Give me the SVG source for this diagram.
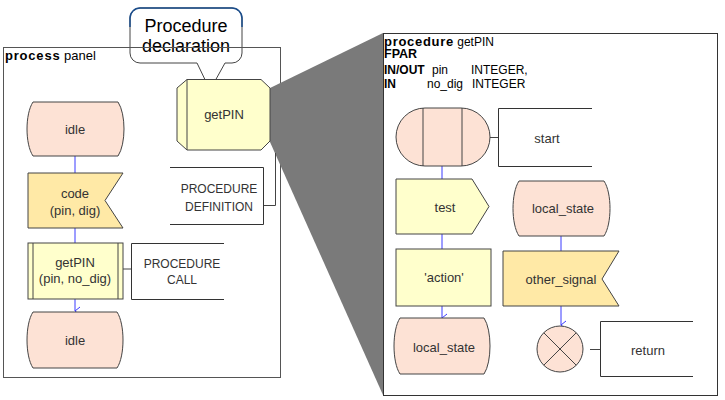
<svg xmlns="http://www.w3.org/2000/svg" width="725" height="400" viewBox="0 0 725 400">
<style>
text{font-family:"Liberation Sans",Arial,sans-serif;fill:#333;font-size:13px;text-anchor:middle}
.hd{fill:#000;text-anchor:start;font-size:12px}
.b{font-weight:bold}
.cm{font-size:12px}
.st{fill:#fde2d5;stroke:#444;stroke-width:1}
.yl{fill:#ffffcc;stroke:#444;stroke-width:1}
.in{fill:#ffe9a6;stroke:#444;stroke-width:1}
.br{fill:none;stroke:#333;stroke-width:1}
.cn{fill:none;stroke:#3a3aff;stroke-width:1}
.ln{fill:none;stroke:#444;stroke-width:1}
</style>
<defs>
<marker id="ar" viewBox="0 0 10 10" refX="5" refY="9" markerWidth="10" markerHeight="10" markerUnits="userSpaceOnUse" orient="auto-start-reverse">
<path d="M1,4 L5,9 L9,4" fill="none" stroke="#3a3aff" stroke-width="1"/>
</marker>
</defs>
<rect width="725" height="400" fill="#fff"/>

<!-- callout -->
<g id="callout">
<path d="M140,8 H232 A10,10 0 0 1 242,18 V53 A10,10 0 0 1 232,63 H225 L210,90 L197,63 H140 A10,10 0 0 1 130,53 V18 A10,10 0 0 1 140,8 Z" fill="#fff" stroke="#444" stroke-width="1"/>
<path d="M130,27 V18 A10,10 0 0 1 140,8 H232 A10,10 0 0 1 242,18 V27" fill="none" stroke="#1a4d8c" stroke-width="1.5"/>
<text x="186" y="32" style="font-size:18px;fill:#000">Procedure</text>
<text x="186" y="52" style="font-size:18px;fill:#000">declaration</text>
</g>

<!-- left panel -->
<g id="process-panel">
<rect x="3.5" y="47.5" width="277" height="330" fill="none" stroke="#555" stroke-width="1"/>
<text x="5" y="60" class="hd" style="font-size:13px"><tspan class="b" style="letter-spacing:0.8px">process</tspan> panel</text>
</g>

<!-- right panel -->
<g id="procedure-panel">
<rect x="383.5" y="33.5" width="334" height="362" fill="#fff" stroke="#333" stroke-width="1"/>
<text x="384" y="45.5" class="hd"><tspan class="b" style="font-size:13px;letter-spacing:0.7px">procedure</tspan> getPIN</text>
<text x="384" y="58" class="hd b" style="font-size:12.5px">FPAR</text>
<text x="384" y="74" class="hd b">IN/OUT</text>
<text x="432" y="74" class="hd">pin</text>
<text x="471" y="74" class="hd">INTEGER,</text>
<text x="384" y="88" class="hd b">IN</text>
<text x="427" y="88" class="hd">no_dig</text>
<text x="472" y="88" class="hd">INTEGER</text>
</g>

<!-- zoom hatch -->
<g id="zoom-hatch">
<polygon points="270,88 383,33 383,395 270,142" fill="#7a7a7a"/>
</g>

<g id="connectors">
<line class="cn" x1="75" y1="156" x2="75" y2="173"/>
<line class="cn" x1="75" y1="228" x2="75" y2="243"/>
<line class="cn" x1="75" y1="299" x2="75" y2="311" marker-end="url(#ar)"/>
<line class="ln" x1="123" y1="269" x2="131" y2="269"/>
<path class="ln" d="M275.5,153 V205.5 H263"/>
<line class="ln" x1="490" y1="137.5" x2="498" y2="137.5"/>
<line class="cn" x1="442" y1="166" x2="442" y2="179"/>
<line class="cn" x1="442" y1="234" x2="442" y2="249"/>
<line class="cn" x1="442" y1="306" x2="442" y2="318" marker-end="url(#ar)"/>
<line class="cn" x1="561" y1="236" x2="561" y2="251"/>
<line class="cn" x1="561" y1="306" x2="561" y2="325" marker-end="url(#ar)"/>
<line class="ln" x1="590" y1="349.5" x2="600" y2="349.5"/>
</g>

<g id="proc-decl">
<path class="yl" d="M187,79.5 H261 L270,88 V141 L261,150 H187 L177,141 V88 Z"/>
<line class="ln" x1="187" y1="79.5" x2="187" y2="150"/>
<text x="224" y="119">getPIN</text>
</g>

<g id="comment-definition">
<path class="br" d="M170,167.5 H263.5 V224.5 H170"/>
<text x="219" y="193" class="cm">PROCEDURE</text>
<text x="219" y="211" class="cm">DEFINITION</text>
</g>

<g id="idle-top">
<path class="st" d="M33,102 H118 C126,114 126,144 118,156 H33 C25,144 25,114 33,102 Z"/>
<text x="75" y="134">idle</text>
</g>

<g id="input-code">
<polygon class="in" points="28,173 123,173 105,200.5 123,228 28,228"/>
<text x="75" y="198">code</text>
<text x="75" y="215">(pin, dig)</text>
</g>

<g id="call-getpin">
<rect class="yl" x="28" y="243" width="95" height="56"/>
<line class="ln" x1="33" y1="243" x2="33" y2="299"/>
<line class="ln" x1="118" y1="243" x2="118" y2="299"/>
<text x="75" y="267">getPIN</text>
<text x="75" y="283">(pin, no_dig)</text>
</g>

<g id="comment-call">
<path class="br" d="M224,243.5 H131.5 V299.5 H224"/>
<text x="182" y="268" class="cm">PROCEDURE</text>
<text x="182" y="284" class="cm">CALL</text>
</g>

<g id="idle-bottom">
<path class="st" d="M33,312 H117 C125,324 125,356 117,368 H33 C25,356 25,324 33,312 Z"/>
<text x="75" y="345">idle</text>
</g>

<g id="start">
<rect class="st" x="396" y="108" width="94" height="58" rx="29" ry="29"/>
<line class="ln" x1="423" y1="108" x2="423" y2="166"/>
<line class="ln" x1="462" y1="108" x2="462" y2="166"/>
</g>

<g id="comment-start">
<path class="br" d="M592,108.5 H498.5 V166.5 H592"/>
<text x="547" y="143">start</text>
</g>

<g id="output-test">
<polygon class="yl" points="396,179 472,179 489,206.5 472,234 396,234"/>
<text x="445" y="212">test</text>
</g>

<g id="task-action">
<rect class="yl" x="396" y="249" width="95" height="57"/>
<text x="444" y="282">'action'</text>
</g>

<g id="state-local-1">
<path class="st" d="M400,318 H484 C492,330 492,362 484,374 H400 C392,362 392,330 400,318 Z"/>
<text x="444" y="352">local_state</text>
</g>

<g id="state-local-2">
<path class="st" d="M519,181 H604 C612,193 612,224 604,236 H519 C511,224 511,193 519,181 Z"/>
<text x="563" y="213">local_state</text>
</g>

<g id="input-other">
<polygon class="in" points="503,251 619,251 602,279 619,306 503,306"/>
<text x="561" y="284">other_signal</text>
</g>

<g id="return">
<circle class="st" cx="560" cy="349" r="23"/>
<line class="ln" x1="543.7" y1="332.7" x2="576.3" y2="365.3"/>
<line class="ln" x1="576.3" y1="332.7" x2="543.7" y2="365.3"/>
</g>

<g id="comment-return">
<path class="br" d="M693,321.5 H600.5 V376.5 H693"/>
<text x="648" y="355">return</text>
</g>
</svg>
